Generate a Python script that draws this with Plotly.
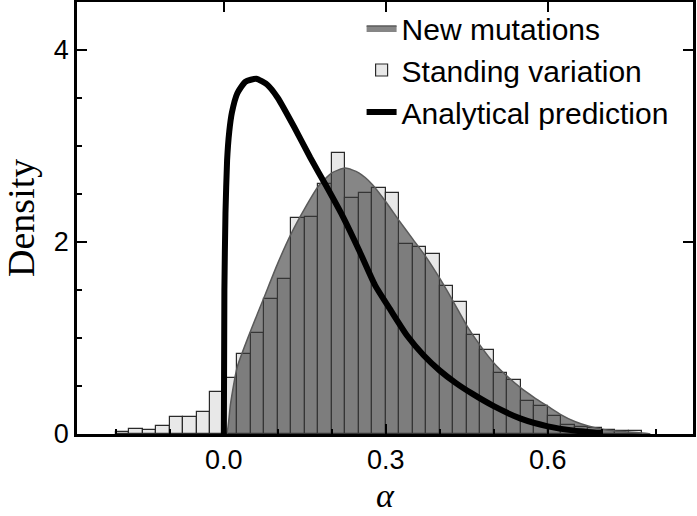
import numpy as np
import plotly.graph_objects as go

# Standing variation histogram: bin left edges and densities
bin_width = 0.025
bin_left = np.round(np.arange(-0.2, 0.775, bin_width), 3)
standing_density = [
    0.02, 0.05, 0.045, 0.08, 0.18, 0.18, 0.23, 0.44,
    0.58, 0.83, 1.05, 1.41, 1.61, 2.25, 2.26, 2.60,
    2.93, 2.46, 2.51, 2.56, 2.51, 1.98, 1.95, 1.875,
    1.54, 1.38, 1.03, 0.875, 0.64, 0.56, 0.34, 0.29,
    0.19, 0.094, 0.076, 0.06, 0.04, 0.035, 0.03,
]

# New mutations: smoothed density
new_x = [0, 0.005, 0.0125, 0.025, 0.05, 0.075, 0.1, 0.125, 0.15, 0.175, 0.2,
         0.225, 0.25, 0.275, 0.3, 0.325, 0.35, 0.375, 0.4, 0.425, 0.45, 0.475,
         0.5, 0.525, 0.55, 0.575, 0.6, 0.625, 0.65, 0.675, 0.7, 0.725, 0.75,
         0.775, 0.79]
new_y = [0, 0, 0.32, 0.7, 1.08, 1.43, 1.78, 2.09, 2.35, 2.58, 2.72,
         2.77, 2.72, 2.6, 2.42, 2.22, 2.03, 1.84, 1.62, 1.38, 1.13, 0.92,
         0.74, 0.60, 0.48, 0.38, 0.29, 0.20, 0.13, 0.083, 0.05, 0.03, 0.02,
         0.01, 0]

# Analytical prediction
pred_x = [0, 0.001, 0.003, 0.006, 0.01, 0.015, 0.025, 0.04, 0.06, 0.08, 0.1,
          0.13, 0.16, 0.19, 0.22, 0.25, 0.28, 0.31, 0.34, 0.37, 0.4, 0.43,
          0.46, 0.5, 0.55, 0.6, 0.65, 0.7]
pred_y = [0, 1.5, 2.3, 2.85, 3.15, 3.35, 3.55, 3.67, 3.70, 3.64, 3.50,
          3.2, 2.88, 2.58, 2.27, 1.92, 1.55, 1.28, 1.02, 0.82, 0.66, 0.53,
          0.42, 0.29, 0.16, 0.08, 0.035, 0.01]

fig = go.Figure()

fig.add_trace(go.Bar(
    x=bin_left + bin_width / 2, y=standing_density, width=bin_width,
    name="Standing variation", legendrank=2,
    marker=dict(color="#e8e8e8", line=dict(color="#2a2a2a", width=1.2)),
))

fig.add_trace(go.Scatter(
    x=new_x, y=new_y, mode="lines", fill="tozeroy",
    name="New mutations", legendrank=1,
    line=dict(color="#5a5a5a", width=1.5, shape="spline", smoothing=0.6),
    fillcolor="rgba(60,60,60,0.62)",
))

fig.add_trace(go.Scatter(
    x=pred_x, y=pred_y, mode="lines",
    name="Analytical prediction", legendrank=3,
    line=dict(color="black", width=6, shape="spline", smoothing=0.5),
))

# empty trace so the mirrored tick axes get drawn
fig.add_trace(go.Scatter(x=[], y=[], xaxis="x2", yaxis="y2",
                         showlegend=False, hoverinfo="skip"))

axis_common = dict(showgrid=False, zeroline=False, showline=True,
                   linecolor="black", linewidth=2.5, mirror=True,
                   ticks="inside", tickcolor="black", tickwidth=2, ticklen=10,
                   automargin=False)

fig.update_layout(
    width=697, height=516,
    margin=dict(l=77, r=4, t=2, b=82),
    plot_bgcolor="white", paper_bgcolor="white",
    bargap=0,
    showlegend=True,
    legend=dict(x=0.462, y=1.0, xanchor="left", yanchor="top",
                bgcolor="rgba(0,0,0,0)", tracegroupgap=0,
                font=dict(family="Liberation Sans", size=30, color="black")),
    xaxis=dict(range=[-0.272, 0.869], tick0=0, dtick=0.3, tickformat=".1f",
               minor=dict(dtick=0.1, ticks="inside", ticklen=5,
                          tickcolor="black", tickwidth=2),
               tickfont=dict(family="Liberation Sans", size=27, color="black"),
               **axis_common),
    yaxis=dict(range=[0, 4.5], dtick=2,
               minor=dict(dtick=0.5, ticks="inside", ticklen=5,
                          tickcolor="black", tickwidth=2),
               tickfont=dict(family="Liberation Sans", size=27, color="black"),
               **axis_common),
    xaxis2=dict(overlaying="x", matches="x", side="top", tick0=0, dtick=0.3,
                showticklabels=False, **axis_common),
    yaxis2=dict(overlaying="y", matches="y", side="right", dtick=2,
                showticklabels=False, **axis_common),
)

# axis titles as paper annotations so they sit where the original has them
fig.add_annotation(text="α", xref="paper", yref="paper", x=0.5, y=-0.143,
                   xanchor="center", yanchor="middle", showarrow=False,
                   font=dict(family="Liberation Serif", size=34, color="black",
                             style="italic"))
fig.add_annotation(text="Density", xref="paper", yref="paper", x=-0.091,
                   y=0.5, xanchor="center", yanchor="middle", textangle=-90,
                   showarrow=False,
                   font=dict(family="Liberation Serif", size=38, color="black"))

# drop the page's default body margin so the figure sits at the corner
fig.write_html("out.html", config={"displayModeBar": False},
               post_script="document.body.style.margin='0';")
